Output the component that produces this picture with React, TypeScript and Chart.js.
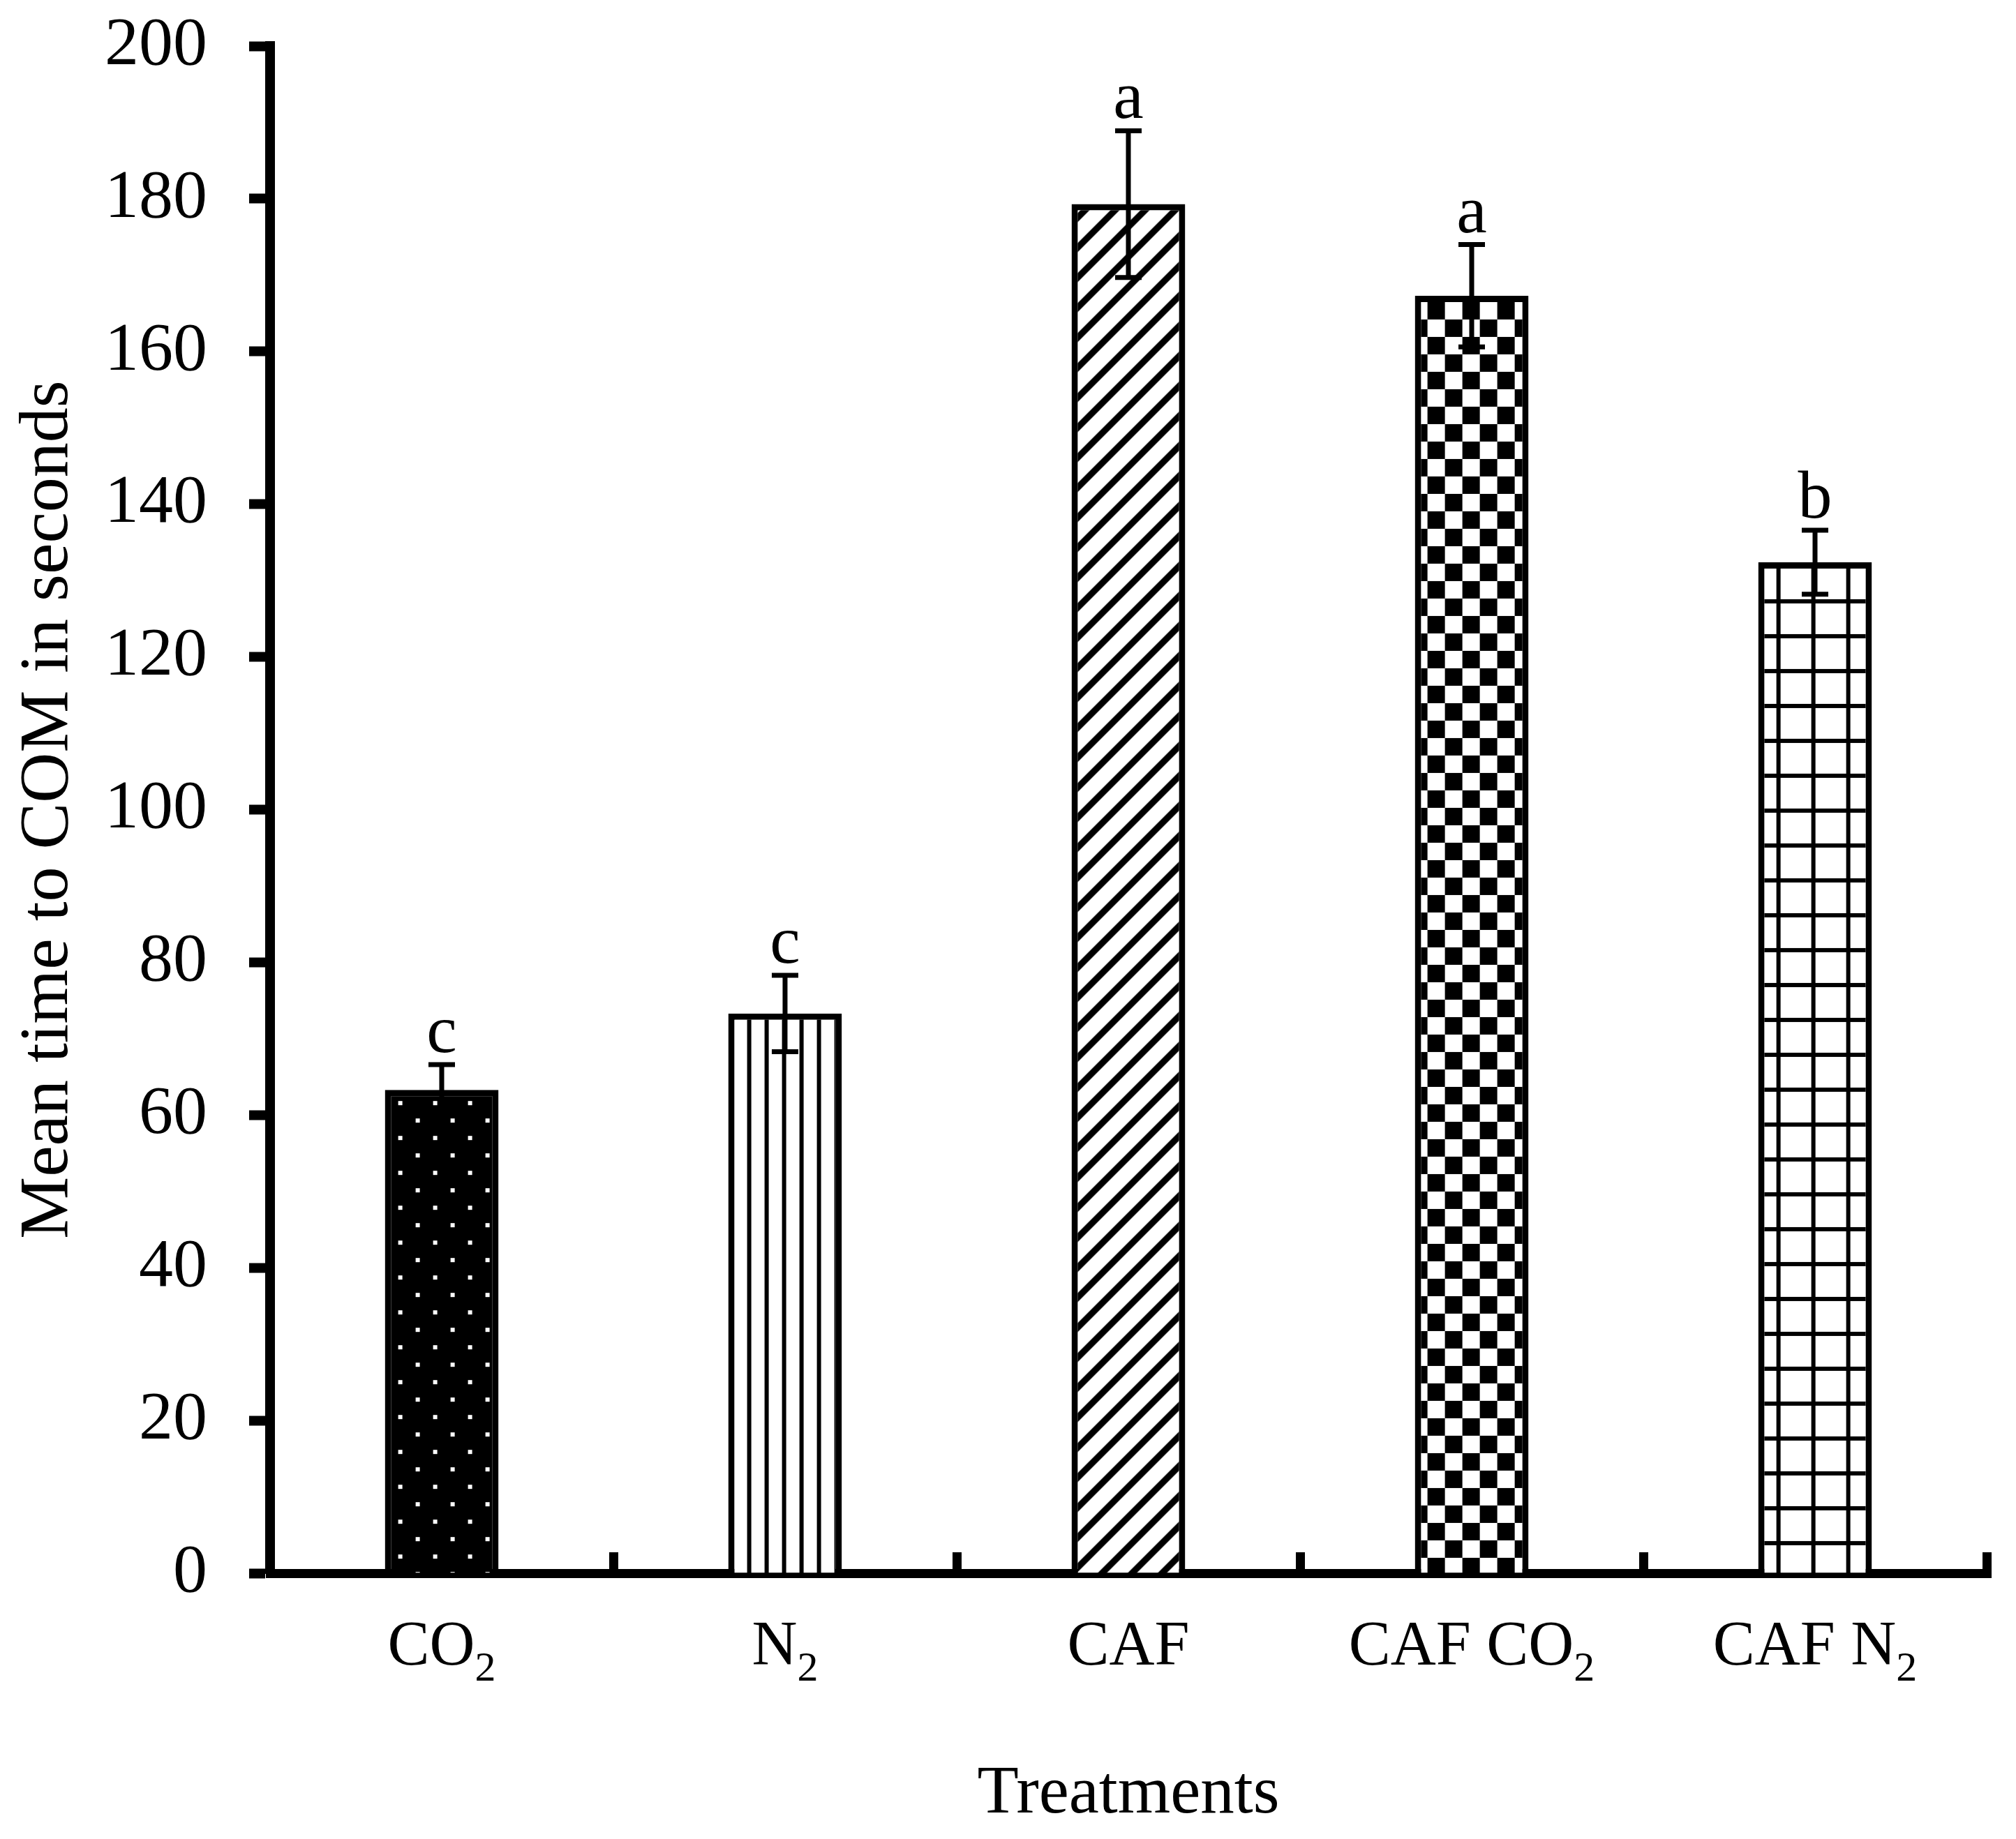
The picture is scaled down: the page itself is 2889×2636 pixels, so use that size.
import React, { useEffect, useRef } from 'react';
import { Chart, registerables } from 'chart.js';

Chart.register(...registerables);

// data
const categories = ['CO2', 'N2', 'CAF', 'CAF CO2', 'CAF N2'];
const labelMain = ['CO', 'N', 'CAF', 'CAF CO', 'CAF N'];
const labelSub = ['2', '2', '', '2', '2'];
const meanTime = [63.3, 73.3, 179.3, 167.3, 132.4];
const stdError = [3.3, 5.0, 9.6, 6.7, 4.2];
const sigLetters = ['c', 'c', 'a', 'a', 'b'];
const yMin = 0;
const yMax = 200;
const yStep = 20;

const FONT = '"Liberation Serif", "Times New Roman", serif';
const W = 2889;
const H = 2636;

// pixel tiles for the black & white fills
function makePattern(ctx: CanvasRenderingContext2D, w: number, h: number, isBlack: (x: number, y: number) => boolean) {
  const c = document.createElement('canvas');
  c.width = w;
  c.height = h;
  const tctx = c.getContext('2d')!;
  const img = tctx.createImageData(w, h);
  for (let y = 0; y < h; y++) {
    for (let x = 0; x < w; x++) {
      const i = (y * w + x) * 4;
      const v = isBlack(x, y) ? 0 : 255;
      img.data[i] = v;
      img.data[i + 1] = v;
      img.data[i + 2] = v;
      img.data[i + 3] = 255;
    }
  }
  tctx.putImageData(img, 0, 0);
  return ctx.createPattern(c, 'repeat')!;
}

function buildPatterns(ctx: CanvasRenderingContext2D) {
  const mod = (a: number, m: number) => ((a % m) + m) % m;
  // dotted: black with small white squares, staggered
  const dots = makePattern(ctx, 50, 50, (x, y) => {
    const d1 = x >= 19 && x < 25 && y >= 16 && y < 22;
    const d2 = x >= 44 && x < 50 && y >= 41 && y < 47;
    return !(d1 || d2);
  });
  // vertical lines
  const vlines = makePattern(ctx, 25, 25, (x) => x >= 2 && x < 8);
  // forward diagonal stripes
  const diag = makePattern(ctx, 43, 43, (x, y) => {
    const k = mod(x + y, 43);
    return k >= 21 && k < 34;
  });
  // checkerboard
  const checker = makePattern(ctx, 50, 50, (x, y) => {
    const a = mod(x - 18, 50) < 25;
    const b = mod(y - 9, 50) < 25;
    return a === b;
  });
  // square grid
  const grid = makePattern(ctx, 50, 50, (x, y) => (x >= 26 && x < 32) || (y >= 3 && y < 9));
  return [dots, vlines, diag, checker, grid];
}

export default function App() {
  const canvasRef = useRef<HTMLCanvasElement>(null);

  useEffect(() => {
    const canvas = canvasRef.current;
    if (!canvas) return;
    const ctx = canvas.getContext('2d')!;
    const patterns = buildPatterns(ctx);

    // keep each fill anchored to its own bar
    const patternAnchor = {
      id: 'patternAnchor',
      beforeDatasetsDraw(chart: any) {
        const meta = chart.getDatasetMeta(0);
        meta.data.forEach((bar: any, i: number) => {
          const p: any = patterns[i];
          if (p && p.setTransform) {
            p.setTransform(new DOMMatrix().translate(bar.x - bar.width / 2, bar.y));
          }
        });
      },
    };

    const errorBars = {
      id: 'errorBars',
      afterDatasetsDraw(chart: any) {
        const c = chart.ctx;
        const ys = chart.scales.y;
        const meta = chart.getDatasetMeta(0);
        c.save();
        c.strokeStyle = '#000';
        c.fillStyle = '#000';
        c.lineWidth = 7;
        c.lineCap = 'butt';
        meta.data.forEach((bar: any, i: number) => {
          const x = bar.x;
          const top = ys.getPixelForValue(meanTime[i] + stdError[i]);
          const bot = ys.getPixelForValue(meanTime[i] - stdError[i]);
          c.beginPath();
          c.moveTo(x, top);
          c.lineTo(x, bot);
          c.moveTo(x - 19, top);
          c.lineTo(x + 19, top);
          c.moveTo(x - 19, bot);
          c.lineTo(x + 19, bot);
          c.stroke();
          c.font = `98px ${FONT}`;
          c.textAlign = 'center';
          c.textBaseline = 'alphabetic';
          c.fillText(sigLetters[i], x, top - 18);
        });
        c.restore();
      },
    };

    // category names with real subscripts
    const categoryLabels = {
      id: 'categoryLabels',
      afterDraw(chart: any) {
        const c = chart.ctx;
        const xs = chart.scales.x;
        const base = xs.top + 131;
        c.save();
        c.fillStyle = '#000';
        c.textAlign = 'left';
        c.textBaseline = 'alphabetic';
        categories.forEach((_, i) => {
          const main = labelMain[i];
          const sub = labelSub[i];
          c.font = `90px ${FONT}`;
          const wm = c.measureText(main).width;
          c.font = `60px ${FONT}`;
          const ws = sub ? c.measureText(sub).width : 0;
          const x0 = xs.getPixelForValue(i) - (wm + ws) / 2;
          c.font = `90px ${FONT}`;
          c.fillText(main, x0, base);
          if (sub) {
            c.font = `60px ${FONT}`;
            c.fillText(sub, x0 + wm, base + 23);
          }
        });
        c.restore();
      },
    };

    const chart = new Chart(canvas, {
      type: 'bar',
      data: {
        labels: categories,
        datasets: [
          {
            data: meanTime,
            backgroundColor: patterns as any,
            borderColor: '#000',
            borderWidth: 9,
            barPercentage: 0.331,
            categoryPercentage: 1,
          },
        ],
      },
      options: {
        animation: false,
        responsive: false,
        maintainAspectRatio: false,
        devicePixelRatio: 1,
        layout: { padding: { left: 0, top: 66, right: 42, bottom: 0 } },
        plugins: {
          legend: { display: false },
          tooltip: { enabled: false },
        },
        scales: {
          x: {
            offset: true,
            afterFit: (scale: any) => {
              scale.height = 381;
              scale.paddingLeft = 0;
              scale.paddingRight = 0;
            },
            border: { display: true, color: '#000', width: 13 },
            grid: {
              display: true,
              offset: true,
              drawOnChartArea: false,
              drawTicks: true,
              tickLength: -30,
              tickWidth: 13,
              tickColor: '#000',
            },
            ticks: { display: false },
            title: {
              display: true,
              text: 'Treatments',
              color: '#000',
              font: { family: FONT, size: 97 },
              padding: { top: 0, bottom: 5 },
            },
          },
          y: {
            min: yMin,
            max: yMax,
            afterFit: (scale: any) => {
              scale.width = 387;
              scale.paddingTop = 0;
              scale.paddingBottom = 0;
            },
            border: { display: true, color: '#000', width: 14 },
            grid: {
              display: true,
              drawOnChartArea: false,
              drawTicks: true,
              tickLength: 30,
              tickWidth: 14,
              tickColor: '#000',
            },
            ticks: {
              stepSize: yStep,
              color: '#000',
              padding: 60,
              font: { family: FONT, size: 98 },
            },
            title: {
              display: true,
              text: 'Mean time to COM in seconds',
              color: '#000',
              font: { family: FONT, size: 100 },
              padding: { top: 10, bottom: 0 },
            },
          },
        },
      },
      plugins: [patternAnchor, errorBars, categoryLabels],
    });

    return () => {
      chart.destroy();
    };
  }, []);

  return (
    <div style={{ position: 'absolute', left: 0, top: 0, width: W, height: H, background: '#fff' }}>
      <canvas ref={canvasRef} width={W} height={H} style={{ display: 'block', width: W, height: H }} />
    </div>
  );
}
